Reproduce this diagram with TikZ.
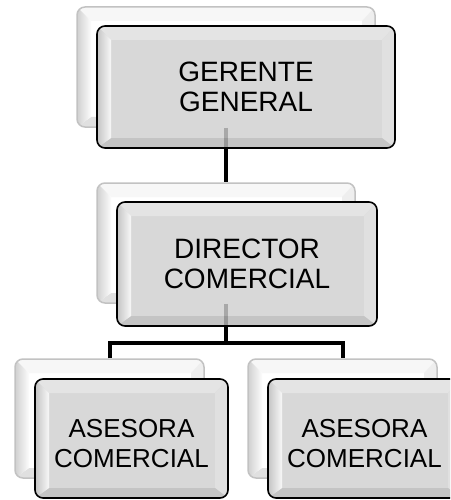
\documentclass[tikz,border=0pt]{standalone}
\usepackage{fontspec}
\setmainfont{Liberation Sans}
\usetikzlibrary{calc}
\definecolor{fcenter}{HTML}{D8D8D8}
\definecolor{fleftO}{HTML}{C4C4C4}
\definecolor{fleftI}{HTML}{F8F8F8}
\definecolor{ftop}{HTML}{E4E4E4}
\definecolor{fright}{HTML}{E0E0E0}
\definecolor{fbottom}{HTML}{C4C4C4}
\definecolor{bcenter}{HTML}{FFFFFF}
\definecolor{bleftO}{HTML}{D0D0D0}
\definecolor{bleftI}{HTML}{FCFCFC}
\definecolor{btop}{HTML}{F7F7F7}
\definecolor{bright}{HTML}{EEEEEE}
\definecolor{bbottom}{HTML}{E0E0E0}
\definecolor{bborder}{HTML}{C2C2C2}
\tikzset{
  bevelbox/.style n args={6}{fill=#6, path picture={
    \begin{scope}[sharp corners]
      \path (path picture bounding box.north west) coordinate (pNW)
            (path picture bounding box.south east) coordinate (pSE);
      \path (pNW |- pSE) coordinate (pSW) (pSE |- pNW) coordinate (pNE);
      \path ($(pNW)+(14pt,-14pt)$) coordinate (qNW)
            ($(pNE)+(-13pt,-14pt)$) coordinate (qNE)
            ($(pSW)+(14pt,10pt)$) coordinate (qSW)
            ($(pSE)+(-13pt,10pt)$) coordinate (qSE);
      \fill[#3] (pNW) -- (pNE) -- (qNE) -- (qNW) -- cycle;
      \fill[#4] (pNE) -- (pSE) -- (qSE) -- (qNE) -- cycle;
      \fill[#5] (pSW) -- (pSE) -- (qSE) -- (qSW) -- cycle;
      \shade[left color=#1, right color=#2] (pNW) -- (qNW) -- (qSW) -- (pSW) -- cycle;
    \end{scope}}},
  backbox/.style={rounded corners=8pt, draw=bborder, line width=1.5pt,
    bevelbox={bleftO}{bleftI}{btop}{bright}{bbottom}{bcenter}, inner sep=0pt},
  frontbox/.style={rounded corners=8pt, draw=black, line width=1.6pt,
    bevelbox={fleftO}{fleftI}{ftop}{fright}{fbottom}{fcenter}, align=center,
    inner sep=0pt, text=black},
  bigtext/.style={font=\fontsize{28}{29.5}\selectfont},
  smalltext/.style={font=\fontsize{26}{30}\selectfont, align=center, text=black},
  conn/.style={draw=black, line width=4pt, line join=miter}
}
\begin{document}
\begin{tikzpicture}[x=1pt,y=-1pt]
\useasboundingbox (0,0) rectangle (450,500);
\clip (0,0) rectangle (450,500);
% back boxes
\node[backbox, minimum width=298pt, minimum height=120pt] (gb) at (226,67) {};
\node[backbox, minimum width=258pt, minimum height=120pt] (db) at (226,243) {};
\node[backbox, minimum width=189pt, minimum height=119pt] (lb) at (109.5,418.5) {};
\node[backbox, minimum width=189pt, minimum height=119pt] (rb) at (342.5,418.5) {};
% connectors
\coordinate (j) at (226,343);
\draw[conn] (gb.south) -- (db.north);
\draw[conn] (db.south) -- (j);
\draw[conn] (lb.north) |- (j) -| (rb.north);
% front boxes
\node[frontbox, bigtext, minimum width=298pt, minimum height=122pt] (gf) at (246,87) {GERENTE\\GENERAL};
\node[frontbox, bigtext, minimum width=260pt, minimum height=124pt] (df) at (247,264) {DIRECTOR\\COMERCIAL};
\node[frontbox, minimum width=193pt, minimum height=119pt] (lf) at (131.5,438.5) {};
\node[frontbox, minimum width=193pt, minimum height=119pt] (rf) at (364.5,438.5) {};
\node[smalltext] (lt) at ($(lf.center)+(0,5)$) {ASESORA\\COMERCIAL};
\node[smalltext] (rt) at ($(rf.center)+(0,5)$) {ASESORA\\COMERCIAL};
% connectors seen through the front boxes
\draw[conn, opacity=0.22] (gb.south) -- (db.north);
\draw[conn, opacity=0.22] (db.south) -- (j);
\end{tikzpicture}
\end{document}
